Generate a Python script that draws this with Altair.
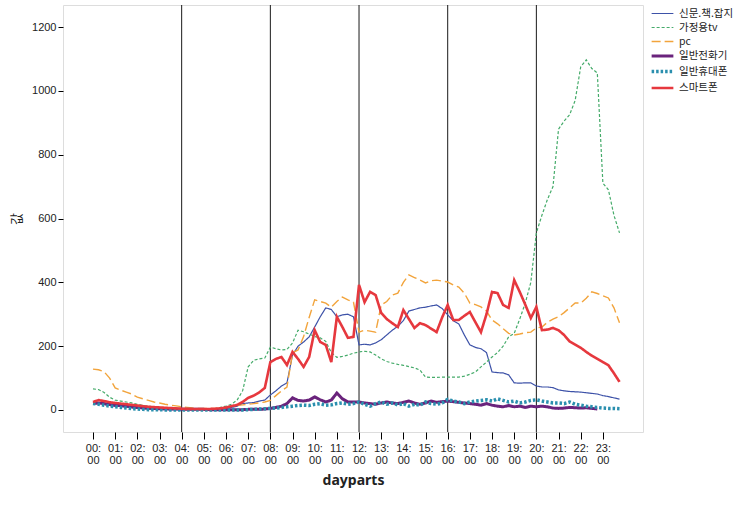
import altair as alt
import pandas as pd

# 15-minute steps, 00:00 .. 23:45 (hour as fraction)
steps = [i / 4 for i in range(96)]

series_names = ["신문.책.잡지", "가정용tv", "pc", "일반전화기", "일반휴대폰", "스마트폰"]

newspaper = [25, 22, 18, 14, 12, 11, 9, 7, 5, 4, 3, 2, 2, 1, 1, 1,
             1, 1, 1, 1, 1, 1, 1, 2, 5, 8, 12, 20, 22, 23, 28, 31,
             47, 60, 75, 85, 172, 200, 213, 229, 260, 292, 320, 315, 292, 298, 300, 292,
             204, 206, 204, 210, 220, 235, 250, 262, 280, 310, 315, 320, 322, 326, 329, 318,
             298, 280, 270, 235, 204, 196, 192, 180, 119, 117, 116, 110, 85, 84, 85, 85,
             75, 72, 72, 70, 63, 60, 58, 57, 56, 54, 52, 50, 45, 42, 38, 34]

tv = [66, 64, 55, 40, 31, 28, 25, 22, 18, 14, 12, 10, 8, 6, 5, 4,
      3, 2, 2, 2, 2, 2, 4, 8, 12, 18, 31, 60, 135, 156, 160, 163,
      197, 192, 188, 190, 210, 250, 245, 238, 230, 226, 215, 180, 165, 168, 172, 178,
      182, 184, 182, 172, 160, 152, 147, 143, 140, 136, 132, 125, 103, 102, 102, 103,
      103, 103, 103, 106, 112, 119, 135, 150, 166, 180, 200, 229, 240, 285, 335, 400,
      555, 610, 660, 700, 880, 905, 925, 970, 1075, 1097, 1070, 1056, 711, 690, 610, 555]

pc = [128, 126, 120, 100, 69, 62, 56, 50, 40, 35, 30, 25, 22, 18, 15, 13,
      10, 8, 6, 5, 5, 5, 5, 6, 8, 12, 15, 16, 18, 20, 22, 25,
      30, 45, 60, 72, 179, 188, 230, 290, 345, 340, 335, 322, 340, 354, 345, 338,
      244, 250, 247, 244, 329, 340, 360, 366, 400, 423, 415, 407, 398, 405, 407, 404,
      401, 392, 385, 366, 335, 330, 323, 310, 282, 270, 255, 240, 235, 238, 242, 244,
      257, 260, 275, 285, 292, 305, 320, 335, 335, 350, 370, 365, 358, 351, 320, 273]

phone = [20, 22, 20, 17, 15, 14, 12, 10, 8, 7, 6, 5, 4, 4, 3, 3,
         2, 2, 2, 2, 2, 1, 1, 1, 1, 1, 1, 1, 2, 2, 2, 3,
         5, 8, 12, 20, 38, 30, 28, 31, 41, 32, 25, 31, 53, 35, 25, 25,
         25, 22, 20, 18, 22, 25, 22, 20, 24, 28, 22, 18, 22, 28, 24, 26,
         28, 26, 24, 22, 20, 18, 15, 20, 15, 12, 10, 14, 10, 12, 8, 12,
         10, 12, 10, 6, 5, 6, 8, 7, 6, 7, 5, 3, None, None, None, None]

mobile = [20, 18, 15, 12, 10, 8, 6, 4, 3, 2, 1, 1, 1, 0, 0, 0,
          0, 0, 0, 0, 0, 0, 0, 0, 0, 0, 0, 0, 1, 2, 3, 4,
          5, 6, 8, 10, 12, 14, 15, 14, 18, 20, 15, 16, 20, 22, 18, 20,
          25, 18, 12, 20, 25, 18, 22, 16, 20, 12, 18, 15, 25, 20, 18, 22,
          33, 28, 25, 20, 25, 28, 30, 32, 28, 35, 30, 25, 28, 22, 25, 30,
          32, 28, 25, 22, 22, 20, 25, 18, 15, 12, 10, 8, 6, 5, 5, 4]

smart = [25, 31, 28, 24, 22, 20, 18, 16, 14, 12, 10, 9, 8, 7, 6, 5,
         4, 3, 3, 3, 3, 3, 4, 5, 8, 12, 16, 25, 38, 45, 55, 69,
         150, 160, 166, 141, 182, 160, 135, 166, 250, 213, 204, 150, 292, 260, 226, 229,
         392, 338, 370, 360, 304, 285, 272, 260, 313, 285, 257, 272, 266, 255, 244, 290,
         329, 282, 282, 295, 307, 275, 244, 300, 370, 366, 329, 320, 407, 370, 330, 288,
         323, 250, 252, 257, 250, 235, 215, 205, 195, 182, 170, 160, 150, 140, 115, 88]

ref_hours = [4, 8, 12, 16, 20]
hour_ticks = list(range(24))
y_ticks = [0, 200, 400, 600, 800, 1000, 1200]

colors = ["#3d52a8", "#45ab6a", "#f2a43c", "#6a237c", "#2a8fae", "#e6383e"]
dashes = [[1, 0], [3, 2], [9, 4], [1, 0], [2.5, 2], [1, 0]]
widths = [1.2, 1.2, 1.4, 3, 3.5, 2.6]

rows = []
for name, vals in zip(series_names, [newspaper, tv, pc, phone, mobile, smart]):
    for h, v in zip(steps, vals):
        if v is not None:
            rows.append({"hour": h, "value": v, "series": name})
df = pd.DataFrame(rows)

font = "Liberation Sans"

x_axis = alt.Axis(values=hour_ticks, title="dayparts", grid=False,
                  labelExpr="[(datum.value < 10 ? '0' : '') + datum.value + ':', '00']",
                  labelOverlap=False, labelBound=False,
                  labelFont=font, labelFontSize=11, labelColor="#222",
                  labelLineHeight=12, tickSize=7, tickColor="#000",
                  domain=False, labelPadding=3,
                  titleFont="Noto Sans", titleFontSize=14, titleFontWeight="bold",
                  titleColor="#222", titlePadding=8)
x_scale = alt.Scale(domain=[-1.353, 24.81], nice=False, zero=False)

legend = alt.Legend(title=None, orient="none", legendX=590, legendY=0,
                    symbolType="M-1.45,0H1.45", symbolSize=225,
                    labelFont="Noto Sans CJK KR", labelFontSize=10.5,
                    labelColor="#222", rowPadding=0, labelOffset=7)

lines = alt.Chart(df).mark_line(interpolate="linear").encode(
    x=alt.X("hour:Q", scale=x_scale, axis=x_axis),
    y=alt.Y("value:Q", scale=alt.Scale(domain=[-69, 1269], nice=False, zero=False),
            axis=alt.Axis(values=y_ticks, title="값", grid=False, labelFont=font, format="d",
                          labelFontSize=11, labelColor="#222", tickSize=5, tickColor="#000",
                          domain=False, labelPadding=2,
                          titleFont="Noto Sans CJK KR", titleFontSize=13, titleFontWeight="normal",
                          titleColor="#222", titlePadding=8)),
    color=alt.Color("series:N", scale=alt.Scale(domain=series_names, range=colors),
                    sort=series_names, legend=legend),
    strokeDash=alt.StrokeDash("series:N", scale=alt.Scale(domain=series_names, range=dashes),
                              sort=series_names, legend=legend),
    strokeWidth=alt.StrokeWidth("series:N",
                                scale=alt.Scale(type="ordinal", domain=series_names, range=widths),
                                sort=series_names, legend=legend),
)

ref_df = pd.DataFrame({"hour": ref_hours})
rules = alt.Chart(ref_df).mark_rule(color="#1a1a1a", strokeWidth=1).encode(
    x=alt.X("hour:Q", scale=x_scale, axis=x_axis))

chart = alt.layer(rules, lines).properties(
    width=580, height=427,
    autosize=alt.AutoSizeParams(type="none"),
    padding={"left": 63, "top": 5, "right": 108, "bottom": 73},
).configure_view(fill="#f0f0f0", stroke="#000", strokeWidth=1
).configure_axisX(labelOverlap=False).configure(background="white")

chart.save("out.html", embed_options={"renderer": "svg", "actions": False})
